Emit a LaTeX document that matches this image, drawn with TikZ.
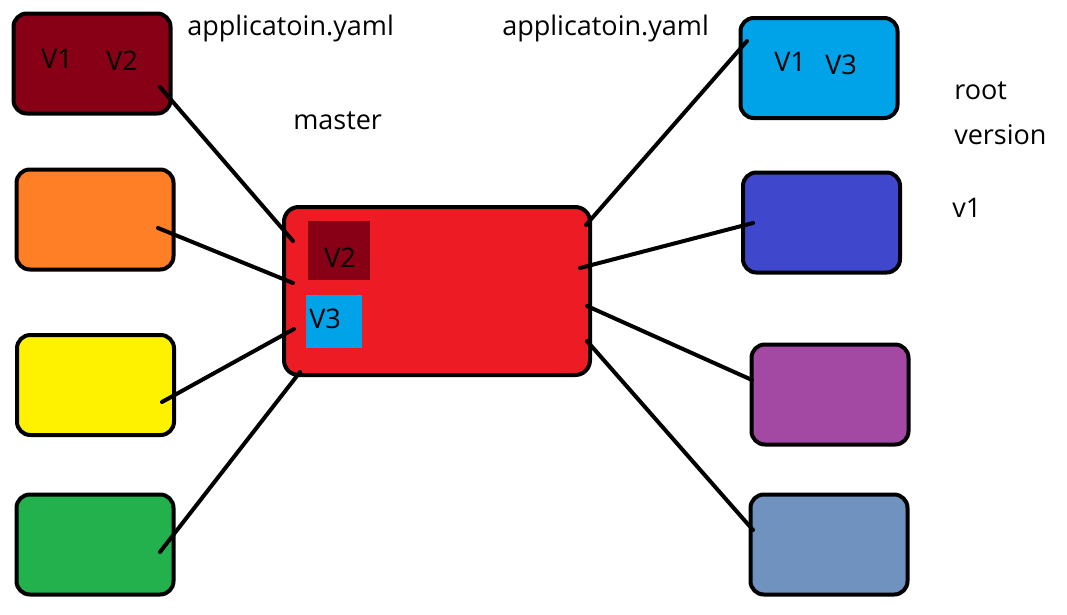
\documentclass[tikz,border=0pt]{standalone}
\usepackage{fontspec}
\setmainfont{Open Sans}
\definecolor{cdred}{HTML}{880015}
\definecolor{corange}{HTML}{FF7F27}
\definecolor{cyellow}{HTML}{FFF200}
\definecolor{cgreen}{HTML}{22B14C}
\definecolor{cred}{HTML}{ED1C24}
\definecolor{clblue}{HTML}{00A2E8}
\definecolor{cblue}{HTML}{3F48CC}
\definecolor{cpurple}{HTML}{A349A4}
\definecolor{csteel}{HTML}{7092BE}
\begin{document}
\begin{tikzpicture}[x=0.75pt,y=-0.75pt,
  sidebox/.style={draw=black,line width=3pt,rounded corners=10pt,minimum width=117.75pt,minimum height=75pt,inner sep=0pt},
  mainbox/.style={draw=black,line width=3pt,rounded corners=11pt,minimum width=229.5pt,minimum height=126pt,inner sep=0pt},
  tag/.style={inner sep=0pt},
  lbl/.style={font=\fontsize{20.25pt}{24pt}\selectfont,inner sep=0pt,anchor=base west},
  link/.style={line width=3pt,line cap=round}]
\useasboundingbox (0,0) rectangle (1067,614);
\fill[white] (0,0) rectangle (1067,614);
% left boxes
\node[sidebox,fill=cdred] (l1) at (92,63.5) {};
\node[sidebox,fill=corange] (l2) at (95,219.5) {};
\node[sidebox,fill=cyellow] (l3) at (95.5,385) {};
\node[sidebox,fill=cgreen] (l4) at (95,544.5) {};
% right boxes
\node[sidebox,fill=clblue] (r1) at (819,68) {};
\node[sidebox,fill=cblue] (r2) at (821.5,222.5) {};
\node[sidebox,fill=cpurple] (r3) at (830,394.5) {};
\node[sidebox,fill=csteel] (r4) at (829,544.5) {};
% master box
\node[mainbox,fill=cred] (m) at (437,291) {};
\node[tag,fill=cdred,minimum width=46.5pt,minimum height=44.25pt] (sq2) at (339,250.5) {};
\node[tag,fill=clblue,minimum width=42pt,minimum height=39.75pt] (sq3) at (334,321.5) {};
% texts
\node[lbl] (t1) at (41,68) {V1};
\node[lbl] (t2) at (106,70) {V2};
\node[lbl] (t3) at (324,267) {V2};
\node[lbl] (t4) at (309,328) {V3};
\node[lbl] (t5) at (774,71) {V1};
\node[lbl] (t6) at (825,74) {V3};
\node[lbl] (ya) at (187,35) {applicatoin.yaml};
\node[lbl] (yb) at (502,35) {applicatoin.yaml};
\node[lbl] (ms) at (293,129) {master};
\node[lbl] (rt) at (954,99) {root};
\node[lbl] (vs) at (954,144) {version};
\node[lbl] (v1) at (952,217) {v1};
% connector ends
\coordinate (a1) at (160,87);  \coordinate (b1) at (293,241);
\coordinate (a2) at (158,228); \coordinate (b2) at (293,283);
\coordinate (a3) at (162,402); \coordinate (b3) at (294,329);
\coordinate (a4) at (160,552); \coordinate (b4) at (300,372);
\coordinate (c1) at (586,225); \coordinate (d1) at (747,41);
\coordinate (c2) at (580,268); \coordinate (d2) at (753,223);
\coordinate (c3) at (587,306); \coordinate (d3) at (752,380);
\coordinate (c4) at (587,341); \coordinate (d4) at (753,530);
\draw[link] (a1) -- (b1);
\draw[link] (a2) -- (b2);
\draw[link] (a3) -- (b3);
\draw[link] (a4) -- (b4);
\draw[link] (c1) -- (d1);
\draw[link] (c2) -- (d2);
\draw[link] (c3) -- (d3);
\draw[link] (c4) -- (d4);
\end{tikzpicture}
\end{document}
